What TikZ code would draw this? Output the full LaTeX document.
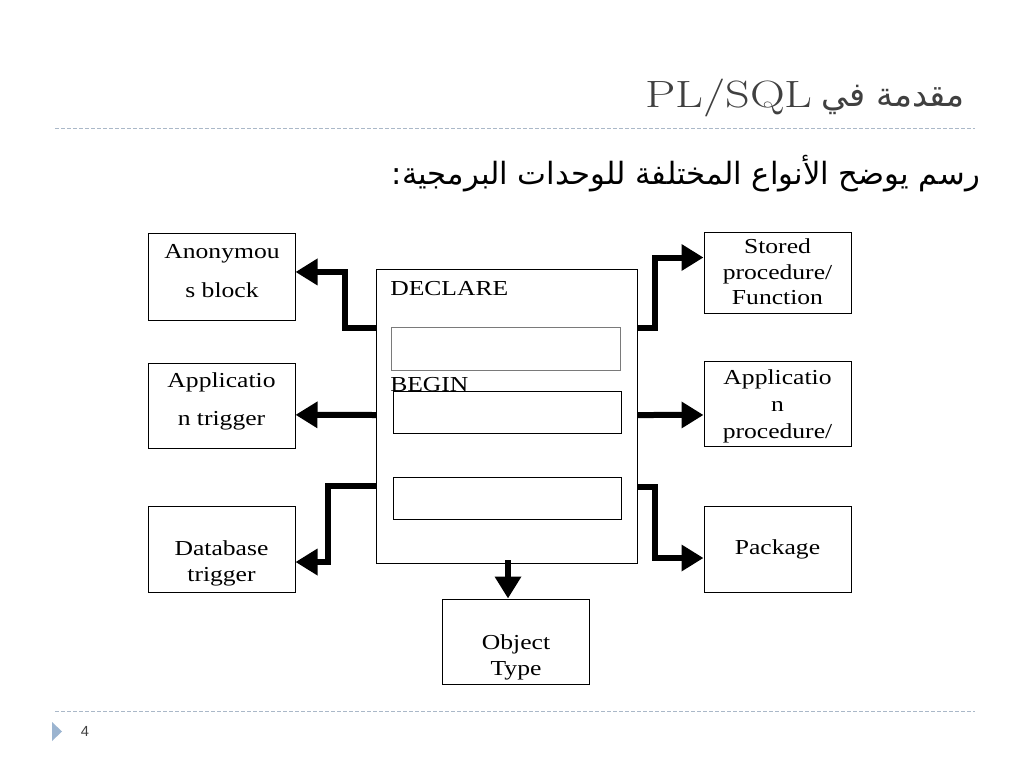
\documentclass[tikz,border=0pt]{standalone}
\usepackage{fontspec}
\usetikzlibrary{arrows.meta}
\TeXXeTstate=1
\newfontfamily\arabicfont[Script=Arabic]{DejaVu Sans}
\newfontfamily\boxfont[FakeStretch=1.2]{Liberation Serif}
\newfontfamily\numfont{Liberation Sans}
\definecolor{titlegray}{HTML}{404040}
\definecolor{dashcol}{HTML}{AAB8C8}
\definecolor{bullet}{HTML}{9BB4D0}
\definecolor{innergray}{HTML}{7A7A7A}
\begin{document}
\begin{tikzpicture}[x=0.75pt,y=-0.75pt,
  box/.style={draw=black,line width=0.75pt,fill=none,minimum width=110.25pt,inner sep=0pt},
  inbox/.style={draw=black,line width=0.75pt,minimum width=171.5pt,minimum height=32pt,inner sep=0pt},
  lbl/.style={font=\boxfont\fontsize{16}{19}\selectfont,align=center,inner sep=0pt},
  conn/.style={line width=4.5pt,line join=miter,-{Triangle[length=16.5pt,width=19pt]}},
  sep/.style={draw=dashcol,line width=0.75pt,dash pattern=on 3pt off 1.5pt}]
\useasboundingbox[fill=white] (0,0) rectangle (1024,768);
% title
\node[anchor=base east,inner sep=0pt,text=titlegray,font=\arabicfont\fontsize{25.2}{28}\selectfont] (tar) at (965,106) {\beginR مقدمة في\endR};
\node[anchor=base east,inner sep=0pt,text=titlegray,font=\fontsize{28.5}{32}\selectfont] (tpl) at (813,107) {\scalebox{1.27}[1]{PL/SQL}};
\draw[sep] (55,128) -- (975,128);
\node[anchor=base east,inner sep=0pt,font=\arabicfont\fontsize{23}{27}\selectfont] (sub) at (980,184) {\beginR رسم يوضح الأنواع المختلفة للوحدات البرمجية:\endR};
% main block
\node[box,minimum width=195.75pt,minimum height=220.5pt] (main) at (506.5,416) {};
\node[anchor=west,inner sep=0pt,font=\boxfont\fontsize{16}{19}\selectfont] (decl) at (390,289) {DECLARE};
\node[inbox,draw=innergray] (in1) at (506,349) {};
\node[anchor=base west,inner sep=0pt,font=\boxfont\fontsize{16}{19}\selectfont] (begin) at (390,391) {BEGIN};
\node[inbox] (in2) at (507.5,412.5) {};
\node[inbox] (in3) at (507.5,498.5) {};
% left boxes
\node[box,minimum height=65.25pt] (anon) at (221.5,276.5) {};
\node[lbl] (tanon) at (222,271.5) {Anonymou\\[10.25pt]s block};
\node[box,minimum height=63.75pt] (apptrig) at (221.5,405.5) {};
\node[lbl] (tapptrig) at (221.5,401) {Applicatio\\[9.5pt]n trigger};
\node[box,minimum height=64.5pt] (dbtrig) at (221.5,549) {};
\node[lbl] (tdbtrig) at (221.5,563.5) {Database\\trigger};
% bottom
\node[box,minimum height=63.75pt] (objtype) at (515.5,641.5) {};
\node[lbl] (tobj) at (516,657.5) {Object\\Type};
% right boxes
\node[box,minimum height=60.75pt] (stored) at (777.5,272.5) {};
\node[lbl] (tstored) at (777.5,272) {Stored\\procedure/\\Function};
\node[box,minimum height=63.75pt] (appproc) at (777.5,403.5) {};
\node[lbl] (tappproc) at (777.5,406.5) {Applicatio\\[1pt]n\\[1pt]procedure/};
\node[box,minimum height=64.5pt] (package) at (777.5,549) {};
\node[lbl] (tpack) at (777.5,549) {Package};
% connectors
\coordinate (mL1) at (376,328);
\coordinate (mL2) at (376,415);
\coordinate (mL3) at (376,486);
\coordinate (mR1) at (637,328);
\coordinate (mR2) at (637,415);
\coordinate (mR3) at (637,487);
\coordinate (mB) at (508,560);
\draw[conn] (mL1) -- ++(-31,0) |- ([yshift=3.4pt]anon.east);
\draw[conn] (mL2) -- ([yshift=-7pt]apptrig.east);
\draw[conn] (mL3) -- ++(-48,0) |- ([yshift=-9.75pt]dbtrig.east);
\draw[conn] (mB) -- (mB |- objtype.north);
\draw[conn] (mR1) -- ++(18,0) |- ([yshift=11.25pt]stored.west);
\draw[conn] (mR2) -- ([yshift=-8.6pt]appproc.west);
\draw[conn] (mR3) -- ++(18,0) |- ([yshift=-6.75pt]package.west);
% footer
\draw[sep] (55,711) -- (975,711);
\fill[bullet] (52,722) -- (52,741) -- (62,731.5) -- cycle;
\node[inner sep=0pt,text=titlegray,font=\numfont\fontsize{11}{13}\selectfont] (pnum) at (85,731) {4};
\end{tikzpicture}
\end{document}
